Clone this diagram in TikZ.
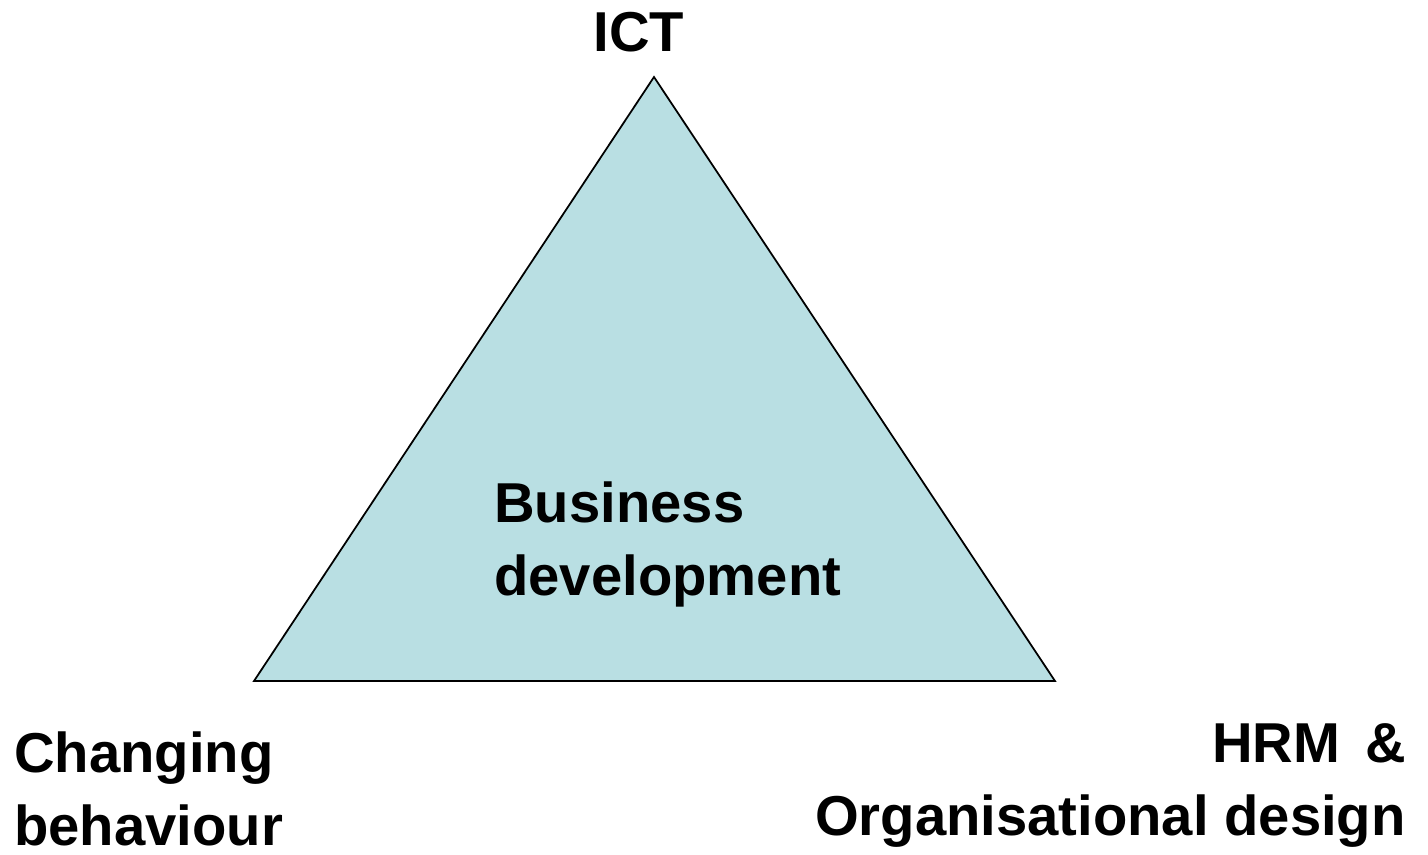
\documentclass[tikz,border=0pt]{standalone}
\usepackage{fontspec}
\setmainfont{Liberation Sans}
\usepackage{tikz}
\usetikzlibrary{positioning}
\definecolor{trifill}{HTML}{B9DFE3}

\begin{document}
\begin{tikzpicture}[x=0.02cm, y=-0.02cm,
  lbl/.style={inner sep=0pt, font=\fontsize{32}{41}\selectfont\bfseries},
  tri/.style={draw=black, line width=1pt, fill=trifill, line join=miter}
]
\useasboundingbox (0,0) rectangle (1428,855);
% corners of the triangle
\coordinate (top) at (654,77);
\coordinate (bl) at (254,681);
\coordinate (br) at (1055,681);
\draw[tri] (bl) -- (top) -- (br) -- cycle;
% labels (base = baseline of the last line)
\node[lbl, anchor=base] (ict) at (639,52) {ICT};
\node[lbl, anchor=base west, align=left] (busdev) at (494,595)
  {Business\\development};
\node[lbl, anchor=base west, align=left] (chbeh) at (14,845)
  {Changing\\behaviour};
\node[lbl, anchor=base east, align=right] (hrm) at (1406,835)
  {HRM \,\&\\Organisational design};
\end{tikzpicture}
\end{document}
